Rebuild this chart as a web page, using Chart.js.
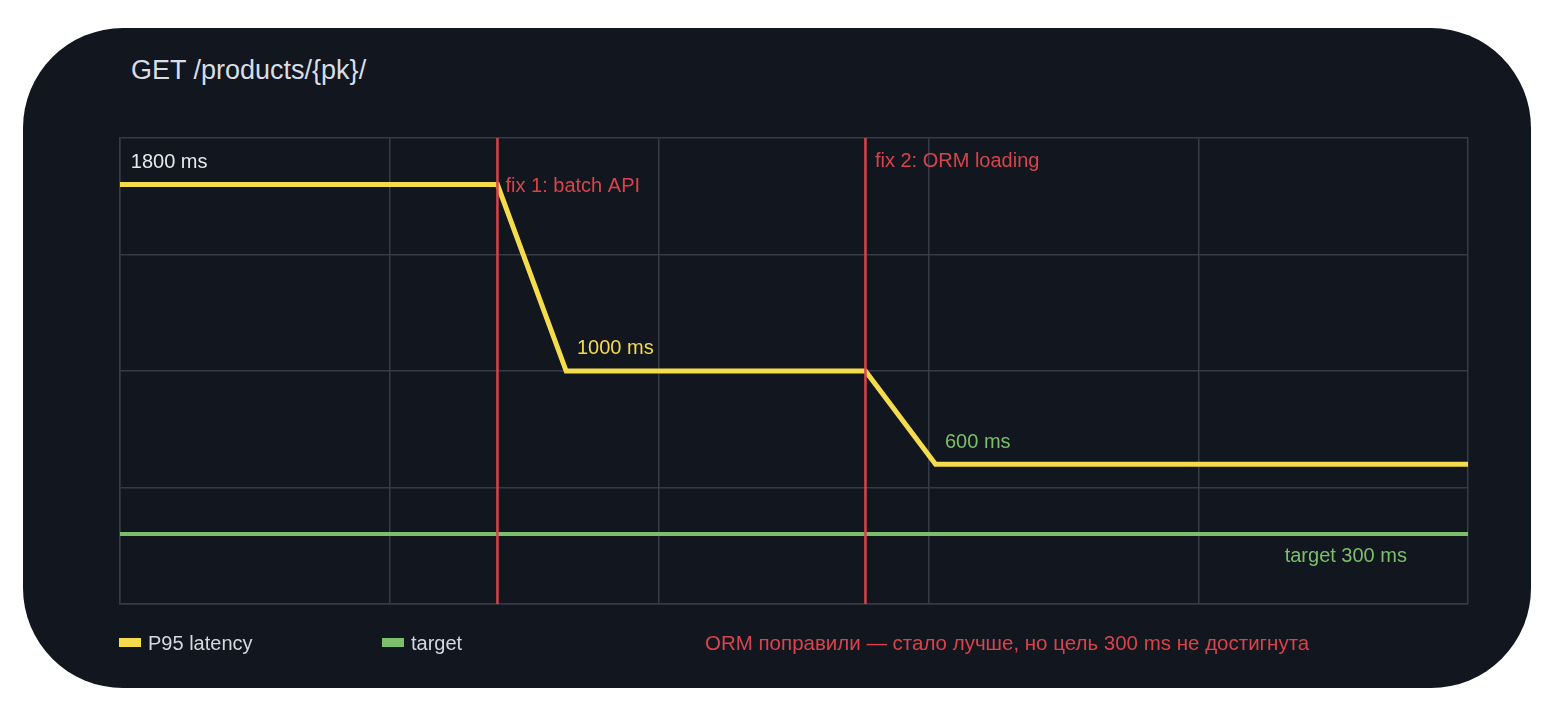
<!DOCTYPE html>
<html>
<head>
<meta charset="utf-8">
<script src="https://cdn.jsdelivr.net/npm/chart.js@4.4.1/dist/chart.umd.min.js"></script>
<style>
  html, body { margin: 0; padding: 0; background: #ffffff; }
  body { width: 1560px; height: 721px; position: relative; overflow: hidden; font-family: "Liberation Sans", Arial, Helvetica, sans-serif; }
  .card { position: absolute; left: 23px; top: 28px; width: 1508px; height: 660px; border-radius: 100px; background: #12161f; }
  .title { position: absolute; left: 131px; top: 52px; font-size: 27px; color: #d9dde4; line-height: 36px; }
  #wrap { position: absolute; left: 0; top: 0; width: 1560px; height: 721px; }
  .legend { position: absolute; top: 631px; height: 24px; line-height: 24px; font-size: 20px; color: #d4d8df; white-space: nowrap; }
  .legend i { display: inline-block; width: 22px; height: 9px; vertical-align: middle; margin-right: 7px; position: relative; top: -2px; }
  .note { color: #d9434b; font-size: 20.5px; }
</style>
</head>
<body>
<div class="card"></div>
<div class="title">GET /products/{pk}/</div>
<div id="wrap"><canvas id="latencyChart" width="1560" height="721"></canvas></div>
<div class="legend" style="left:119px"><i style="background:#f4dc4c"></i>P95 latency</div>
<div class="legend" style="left:382px"><i style="background:#7cbf6a"></i>target</div>
<div class="legend note" style="left:705px">ORM поправили — стало лучше, но цель 300 ms не достигнута</div>
<script>
// P95 latency timeline (x is relative time, 0..100)
const latencyX = [0, 28, 33.1, 55.3, 60.5, 100];
const latencyMs = [1800, 1800, 1000, 1000, 600, 600];
const targetMs = 300;
const fixes = [
  { x: 28, label: "fix 1: batch API" },
  { x: 55.3, label: "fix 2: ORM loading" },
];
const labels = [
  { text: "1800 ms", x: 0.8, y: 1895, color: "#e6e8ec" },
  { text: "fix 1: batch API", x: 28.6, y: 1790, color: "#d9434b" },
  { text: "1000 ms", x: 33.9, y: 1095, color: "#f4dc4c" },
  { text: "fix 2: ORM loading", x: 56.0, y: 1900, color: "#d9434b" },
  { text: "600 ms", x: 61.2, y: 695, color: "#7cbf6a" },
  { text: "target 300 ms", x: 86.4, y: 205, color: "#7cbf6a" },
];

const textLabels = {
  id: "textLabels",
  afterDatasetsDraw(chart) {
    const { ctx, scales } = chart;
    ctx.save();
    ctx.font = '20px "Liberation Sans", Arial, sans-serif';
    ctx.textBaseline = "middle";
    ctx.textAlign = "left";
    labels.forEach((l) => {
      ctx.fillStyle = l.color;
      ctx.fillText(l.text, scales.x.getPixelForValue(l.x), scales.y.getPixelForValue(l.y));
    });
    ctx.restore();
  },
};

const datasets = [];
fixes.forEach((f) => {
  datasets.push({
    label: f.label,
    data: [{ x: f.x, y: 0 }, { x: f.x, y: 2000 }],
    borderColor: "#d9434b",
    borderWidth: 2.5,
    pointRadius: 0,
    order: 0,
  });
});
datasets.push({
  label: "P95 latency",
  data: latencyX.map((x, i) => ({ x, y: latencyMs[i] })),
  borderColor: "#f4dc4c",
  borderWidth: 5,
  pointRadius: 0,
  order: 1,
});
datasets.push({
  label: "target",
  data: [{ x: 0, y: targetMs }, { x: 100, y: targetMs }],
  borderColor: "#7cbf6a",
  borderWidth: 4,
  pointRadius: 0,
  order: 2,
});

new Chart(document.getElementById("latencyChart").getContext("2d"), {
  type: "line",
  data: { datasets },
  options: {
    responsive: false,
    animation: false,
    layout: { padding: { left: 120, top: 138, right: 92, bottom: 117 } },
    plugins: { legend: { display: false }, tooltip: { enabled: false } },
    scales: {
      x: {
        type: "linear", min: 0, max: 100,
        ticks: { display: false, stepSize: 20 },
        grid: { color: "#353b47", lineWidth: 1.5, drawTicks: false },
        border: { color: "#353b47", width: 1.5 },
      },
      y: {
        min: 0, max: 2000,
        ticks: { display: false, stepSize: 500 },
        grid: { color: "#353b47", lineWidth: 1.5, drawTicks: false },
        border: { color: "#353b47", width: 1.5 },
      },
    },
  },
  plugins: [textLabels],
});
</script>
</body>
</html>
